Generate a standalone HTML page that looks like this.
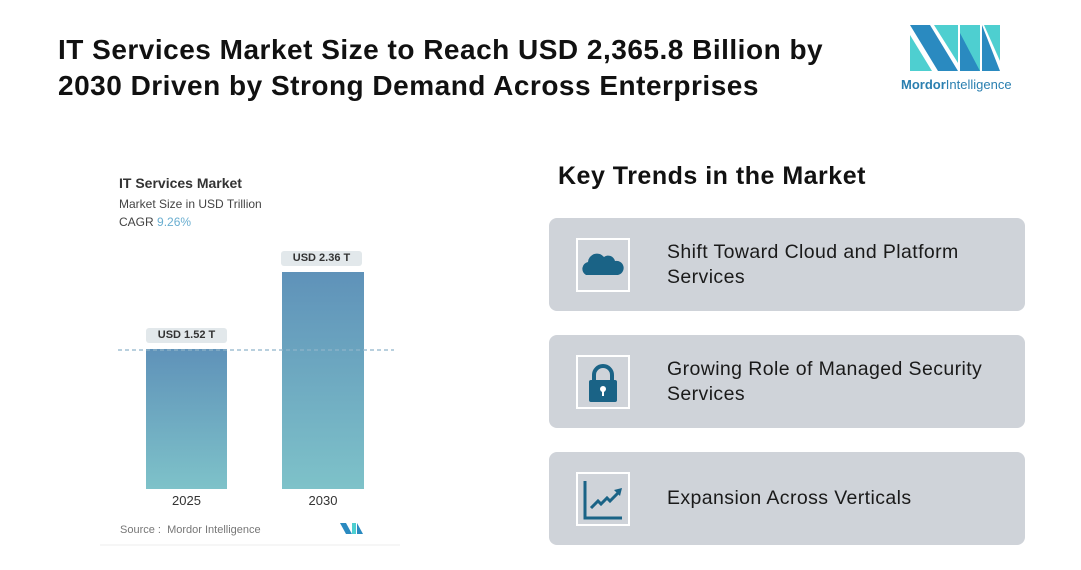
<!DOCTYPE html>
<html><head><meta charset="utf-8"><style>
body{margin:0;width:1081px;height:570px;background:#fff;font-family:"Liberation Sans",sans-serif;position:relative;overflow:hidden}
.a{position:absolute}
h1{position:absolute;left:58px;top:32px;margin:0;font-size:28px;line-height:36px;font-weight:bold;color:#111;letter-spacing:0.5px;white-space:nowrap}
.card{position:absolute;left:549px;width:476px;height:93px;background:#cfd3d9;border-radius:8px}
.ib{position:absolute;left:27px;top:20px;width:50px;height:50px;border:2px solid #fff}
.ct{position:absolute;left:118px;font-size:19.5px;line-height:25px;color:#1a1a1a;letter-spacing:0.4px}
.lbl{position:absolute;background:#e2e8eb;border-radius:3px;font-size:11px;font-weight:bold;color:#333;text-align:center;line-height:15px}
</style></head><body>
<h1>IT Services Market Size to Reach USD 2,365.8 Billion by<br>2030 Driven by Strong Demand Across Enterprises</h1>
<svg class="a" style="left:910px;top:25px" width="92" height="46" viewBox="0 0 92 46">
<rect x="0" y="0" width="92" height="46" fill="#fff"/>
<polygon points="0,0 20,0 48,46 28,46" fill="#2a8ac0"/>
<polygon points="0,10 0,46 22,46" fill="#4ecfd0"/>
<polygon points="24,0 48,0 48,38" fill="#4ecfd0"/>
<polygon points="50,0 70,0 70,46 50,46" fill="#4ecfd0"/>
<polygon points="72,0 72,46 90,46" fill="#2a8ac0"/>
<polygon points="74,0 90,0 90,36" fill="#4ecfd0"/>
<polygon points="50,8 70,46 50,46" fill="#2a8ac0"/>
</svg>
<div class="a" style="left:901px;top:77px;font-size:13px;color:#2a7fb0"><b>Mordor</b>Intelligence</div>

<div class="a" style="left:119px;top:175px;font-size:14px;font-weight:bold;color:#333">IT Services Market</div>
<div class="a" style="left:119px;top:197px;font-size:12px;color:#444">Market Size in USD Trillion</div>
<div class="a" style="left:119px;top:215px;font-size:12px;color:#444">CAGR <span style="color:#6aaed0">9.26%</span></div>
<svg class="a" style="left:0;top:0" width="420" height="560">
<defs><linearGradient id="g" x1="0" y1="0" x2="0" y2="1"><stop offset="0" stop-color="#5f92b9"/><stop offset="1" stop-color="#7ec2c9"/></linearGradient></defs>
<rect x="146" y="349" width="81" height="140" fill="url(#g)"/>
<rect x="282" y="272" width="82" height="217" fill="url(#g)"/>
<line x1="118" y1="350" x2="394" y2="350" stroke="#8fb4c9" stroke-width="1.2" stroke-dasharray="4,3"/>
<line x1="100" y1="545" x2="400" y2="545" stroke="#eee"/>
<polygon points="340,523 346,523 352,534 346,534" fill="#2a8ac0"/><polygon points="352,523 356,523 356,534 352,534" fill="#4ecfd0"/><polygon points="357,523 363,534 357,534" fill="#2a8ac0"/>
</svg>
<div class="lbl" style="left:146px;top:328px;width:81px">USD 1.52 T</div>
<div class="lbl" style="left:281px;top:251px;width:81px">USD 2.36 T</div>
<div class="a" style="left:146px;top:493px;width:81px;text-align:center;font-size:13px;color:#333">2025</div>
<div class="a" style="left:282px;top:493px;width:82px;text-align:center;font-size:13px;color:#333">2030</div>
<div class="a" style="left:120px;top:524px;font-size:11px;color:#777">Source :&nbsp; Mordor Intelligence</div>

<div class="a" style="left:558px;top:162px;font-size:25px;font-weight:bold;color:#111;letter-spacing:0.5px">Key Trends in the Market</div>

<div class="card" style="top:218px"><div class="ib"><svg width="50" height="50"><path d="M8 35 a7 7 0 0 1 2-13 a9 9 0 0 1 16-5 a7 7 0 0 1 11 4 a7 7 0 0 1 3 14 z" fill="#1a6386"/></svg></div>
<div class="ct" style="top:22px">Shift Toward Cloud and Platform<br>Services</div></div>
<div class="card" style="top:335px"><div class="ib"><svg width="50" height="50"><path d="M16 24 v-6 a9 9 0 0 1 18 0 v6" fill="none" stroke="#1a6386" stroke-width="4"/><rect x="11" y="23" width="28" height="22" rx="2" fill="#1a6386"/><circle cx="25" cy="32" r="3" fill="#fff"/><rect x="24" y="33" width="2" height="6" fill="#fff"/></svg></div>
<div class="ct" style="top:22px">Growing Role of Managed Security<br>Services</div></div>
<div class="card" style="top:452px"><div class="ib"><svg width="50" height="50"><path d="M7 7 v37 h37" fill="none" stroke="#1a6386" stroke-width="3"/><path d="M13 34 l7-7 3 3 6-6 3 3 8-8" fill="none" stroke="#1a6386" stroke-width="3"/><polygon points="36,16 44,14 42,22" fill="#1a6386"/></svg></div>
<div class="ct" style="top:34px">Expansion Across Verticals</div></div>
</body></html>
